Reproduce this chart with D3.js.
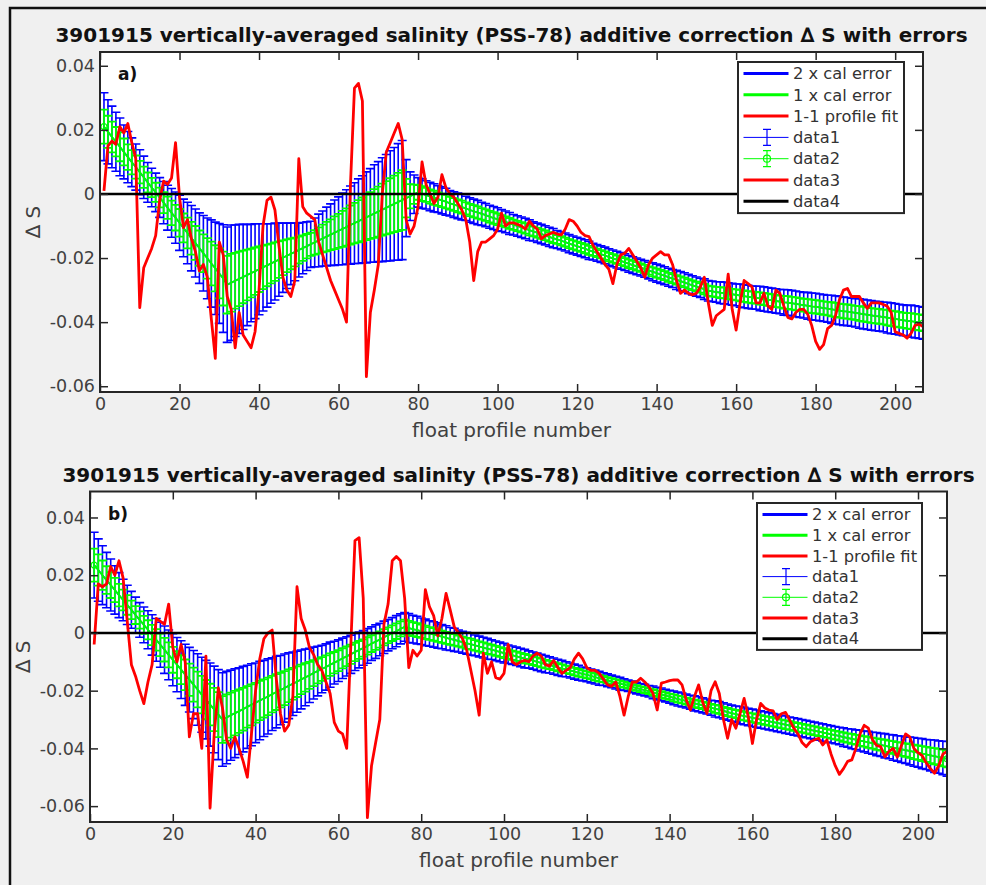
<!DOCTYPE html>
<html>
<meta charset="utf-8">
<head>
<title>3901915 salinity correction</title>
<script src="https://d3js.org/d3.v7.min.js"></script>
<style>
body { margin: 0; background: #f0f0f0; }
text { font-family: "DejaVu Sans", sans-serif; }
</style>
</head>
<body>
<div id="plot"></div>
<script>

// profile numbers along the x axis
var profileNo = d3.range(1, 208);

var xTicks = [0, 20, 40, 60, 80, 100, 120, 140, 160, 180, 200];
var yTicks = [-0.06, -0.04, -0.02, 0, 0.02, 0.04];
var yTickLabels = ["-0.06", "-0.04", "-0.02", "0", "0.02", "0.04"];
var titleText = "3901915 vertically-averaged salinity (PSS-78) additive correction \u2206 S with errors";
var xLabel = "float profile number";
var yLabel = "\u2206 S";
var legendLabels = ["2 x cal error", "1 x cal error", "1-1 profile fit", "data1", "data2", "data3", "data4"];

// panel a : fitted correction, 1 x cal error, 1-1 profile fit
var fitA = [
 .0210,.0194,.0178,.0163,.0147,.0131,.0115,.0099,.0084,.0068,
 .0052,.0036,.0020,.0005,-.0011,-.0027,-.0043,-.0059,-.0074,-.0090,
 -.0106,-.0122,-.0138,-.0153,-.0169,-.0185,-.0201,-.0217,-.0232,-.0248,
 -.0264,-.0283,-.0277,-.0271,-.0265,-.0259,-.0253,-.0247,-.0241,-.0235,
 -.0229,-.0223,-.0217,-.0211,-.0205,-.0199,-.0193,-.0187,-.0181,-.0175,
 -.0169,-.0163,-.0157,-.0151,-.0145,-.0139,-.0133,-.0127,-.0121,-.0115,
 -.0109,-.0103,-.0097,-.0091,-.0085,-.0079,-.0073,-.0067,-.0061,-.0055,
 -.0049,-.0043,-.0037,-.0031,-.0025,-.0019,-.0013,-.0007,-.0001,.0005,
 .0001,-.0003,-.0008,-.0012,-.0016,-.0020,-.0024,-.0029,-.0033,-.0037,
 -.0041,-.0045,-.0050,-.0054,-.0058,-.0062,-.0066,-.0071,-.0075,-.0079,
 -.0083,-.0087,-.0092,-.0096,-.0100,-.0104,-.0108,-.0113,-.0117,-.0121,
 -.0125,-.0129,-.0134,-.0138,-.0142,-.0146,-.0150,-.0155,-.0159,-.0163,
 -.0167,-.0171,-.0176,-.0180,-.0184,-.0188,-.0192,-.0197,-.0201,-.0205,
 -.0209,-.0213,-.0218,-.0222,-.0226,-.0230,-.0234,-.0239,-.0243,-.0247,
 -.0251,-.0255,-.0260,-.0264,-.0268,-.0272,-.0276,-.0281,-.0285,-.0289,
 -.0293,-.0297,-.0302,-.0304,-.0306,-.0308,-.0309,-.0311,-.0313,-.0315,
 -.0317,-.0319,-.0321,-.0323,-.0324,-.0326,-.0328,-.0330,-.0332,-.0334,
 -.0336,-.0338,-.0339,-.0341,-.0343,-.0345,-.0347,-.0349,-.0351,-.0352,
 -.0354,-.0356,-.0358,-.0360,-.0362,-.0364,-.0366,-.0367,-.0369,-.0371,
 -.0373,-.0375,-.0377,-.0379,-.0381,-.0382,-.0384,-.0386,-.0388,-.0390,
 -.0392,-.0394,-.0396,-.0397,-.0399,-.0401,-.0403];

var calErrA = [
 .0053,.0050,.0048,.0046,.0045,.0042,.0040,.0038,.0036,.0035,
 .0033,.0031,.0030,.0030,.0031,.0033,.0035,.0038,.0040,.0043,
 .0045,.0048,.0051,.0053,.0055,.0059,.0063,.0068,.0072,.0078,
 .0084,.0090,.0090,.0087,.0085,.0082,.0079,.0076,.0074,.0071,
 .0068,.0065,.0062,.0060,.0057,.0054,.0051,.0048,.0045,.0042,
 .0040,.0038,.0036,.0038,.0041,.0043,.0046,.0048,.0051,.0053,
 .0056,.0058,.0061,.0063,.0066,.0068,.0071,.0073,.0076,.0078,
 .0081,.0083,.0086,.0088,.0091,.0093,.0060,.0038,.0030,.0023,
 .0023,.0022,.0022,.0022,.0021,.0021,.0021,.0020,.0020,.0020,
 .0020,.0019,.0019,.0019,.0019,.0018,.0018,.0018,.0018,.0018,
 .0017,.0017,.0017,.0016,.0016,.0016,.0016,.0016,.0015,.0015,
 .0015,.0015,.0015,.0015,.0014,.0014,.0014,.0014,.0014,.0014,
 .0014,.0014,.0014,.0013,.0013,.0013,.0013,.0013,.0013,.0013,
 .0013,.0013,.0013,.0013,.0013,.0013,.0013,.0013,.0014,.0014,
 .0014,.0014,.0014,.0014,.0015,.0015,.0015,.0015,.0015,.0015,
 .0015,.0016,.0016,.0016,.0016,.0017,.0017,.0017,.0017,.0017,
 .0018,.0018,.0018,.0018,.0018,.0019,.0019,.0019,.0019,.0019,
 .0019,.0020,.0020,.0020,.0020,.0020,.0020,.0021,.0021,.0021,
 .0021,.0021,.0021,.0022,.0022,.0022,.0022,.0022,.0022,.0022,
 .0023,.0023,.0023,.0023,.0023,.0023,.0023,.0024,.0024,.0024,
 .0024,.0024,.0024,.0025,.0025,.0025,.0025];

var profileFitA = [
 .001,.015,.0165,.0155,.021,.019,.022,.016,.011,-.0355,
 -.023,-.020,-.017,-.013,-.002,.004,.003,.005,.016,-.001,
 -.0105,-.008,-.014,-.018,-.024,-.022,-.026,-.039,-.0513,-.015,
 -.019,-.032,-.036,-.048,-.037,-.044,-.046,-.048,-.043,-.030,
 -.010,-.002,-.001,-.005,-.016,-.026,-.030,-.032,-.027,.011,
 -.004,-.006,-.007,-.008,-.015,-.019,-.023,-.027,-.030,-.033,
 -.036,-.040,.003,.033,.0345,.029,-.057,-.037,-.030,-.022,
 .000,.013,.016,.019,.022,.017,-.008,-.0125,-.010,-.004,
 .010,.003,.000,-.003,-.001,.006,.002,.000,-.001,-.003,
 -.005,-.008,-.015,-.027,-.018,-.015,-.015,-.014,-.013,-.011,
 -.006,-.010,-.009,-.009,-.0095,-.010,-.011,-.0085,-.010,-.011,
 -.014,-.013,-.0125,-.012,-.0125,-.0128,-.011,-.008,-.0085,-.010,
 -.012,-.013,-.0133,-.016,-.018,-.020,-.022,-.0235,-.028,-.022,
 -.019,-.0185,-.017,-.019,-.021,-.023,-.026,-.022,-.020,-.019,
 -.018,-.019,-.019,-.022,-.027,-.031,-.030,-.031,-.0315,-.031,
 -.029,-.026,-.034,-.041,-.038,-.037,-.036,-.025,-.036,-.0425,
 -.034,-.027,-.028,-.029,-.034,-.034,-.031,-.035,-.036,-.030,
 -.031,-.035,-.0385,-.039,-.037,-.036,-.036,-.0375,-.041,-.046,
 -.0485,-.047,-.042,-.041,-.038,-.033,-.030,-.0295,-.032,-.032,
 -.032,-.034,-.0357,-.034,-.034,-.034,-.0345,-.035,-.037,-.043,
 -.0435,-.044,-.045,-.0435,-.041,-.0406,-.0414];

// panel b
var fitB = [
 .0235,.0218,.0200,.0183,.0166,.0149,.0131,.0114,.0097,.0080,
 .0062,.0045,.0028,.0011,-.0007,-.0024,-.0041,-.0058,-.0076,-.0093,
 -.0110,-.0127,-.0145,-.0162,-.0179,-.0196,-.0214,-.0231,-.0248,-.0265,
 -.0283,-.0300,-.0293,-.0285,-.0278,-.0271,-.0264,-.0256,-.0249,-.0242,
 -.0234,-.0227,-.0220,-.0212,-.0205,-.0198,-.0191,-.0183,-.0176,-.0169,
 -.0161,-.0154,-.0147,-.0139,-.0132,-.0125,-.0118,-.0110,-.0103,-.0096,
 -.0088,-.0081,-.0074,-.0066,-.0059,-.0052,-.0045,-.0037,-.0030,-.0023,
 -.0015,-.0008,-.0001,.0006,.0014,.0021,.0017,.0013,.0010,.0006,
 .0002,-.0002,-.0005,-.0009,-.0013,-.0017,-.0021,-.0024,-.0028,-.0032,
 -.0036,-.0039,-.0043,-.0047,-.0051,-.0055,-.0058,-.0062,-.0066,-.0070,
 -.0074,-.0077,-.0081,-.0085,-.0089,-.0092,-.0096,-.0100,-.0104,-.0108,
 -.0111,-.0115,-.0119,-.0123,-.0126,-.0130,-.0134,-.0138,-.0142,-.0145,
 -.0149,-.0153,-.0157,-.0160,-.0164,-.0168,-.0172,-.0176,-.0179,-.0183,
 -.0187,-.0191,-.0195,-.0198,-.0202,-.0206,-.0210,-.0213,-.0217,-.0221,
 -.0225,-.0229,-.0232,-.0236,-.0240,-.0244,-.0247,-.0251,-.0255,-.0259,
 -.0263,-.0266,-.0270,-.0274,-.0278,-.0281,-.0285,-.0288,-.0291,-.0294,
 -.0297,-.0300,-.0303,-.0306,-.0309,-.0312,-.0315,-.0318,-.0321,-.0324,
 -.0327,-.0330,-.0333,-.0336,-.0339,-.0342,-.0345,-.0348,-.0351,-.0354,
 -.0357,-.0361,-.0364,-.0367,-.0370,-.0373,-.0376,-.0379,-.0382,-.0385,
 -.0388,-.0391,-.0394,-.0397,-.0400,-.0403,-.0406,-.0409,-.0412,-.0415,
 -.0418,-.0421,-.0424,-.0427,-.0430,-.0433,-.0436];

var calErrB = [
 .0057,.0054,.0051,.0048,.0045,.0042,.0039,.0036,.0034,.0032,
 .0031,.0030,.0031,.0033,.0035,.0037,.0039,.0041,.0043,.0045,
 .0047,.0050,.0053,.0056,.0059,.0062,.0065,.0068,.0072,.0075,
 .0078,.0081,.0080,.0078,.0077,.0075,.0074,.0072,.0071,.0069,
 .0068,.0066,.0065,.0063,.0062,.0060,.0059,.0057,.0055,.0053,
 .0051,.0049,.0047,.0045,.0043,.0041,.0040,.0039,.0037,.0036,
 .0035,.0034,.0033,.0032,.0031,.0030,.0030,.0029,.0029,.0028,
 .0028,.0027,.0027,.0027,.0026,.0025,.0025,.0024,.0024,.0023,
 .0023,.0022,.0022,.0022,.0021,.0021,.0020,.0020,.0019,.0019,
 .0019,.0019,.0018,.0018,.0018,.0018,.0017,.0017,.0017,.0017,
 .0016,.0016,.0016,.0016,.0016,.0015,.0015,.0015,.0015,.0015,
 .0014,.0014,.0014,.0014,.0013,.0013,.0013,.0013,.0012,.0012,
 .0012,.0012,.0012,.0011,.0011,.0011,.0011,.0011,.0010,.0010,
 .0010,.0010,.0010,.0010,.0010,.0011,.0011,.0011,.0011,.0011,
 .0012,.0012,.0012,.0012,.0012,.0013,.0013,.0013,.0013,.0013,
 .0014,.0014,.0014,.0014,.0014,.0014,.0015,.0015,.0015,.0015,
 .0015,.0015,.0015,.0015,.0015,.0015,.0015,.0015,.0015,.0015,
 .0015,.0015,.0015,.0015,.0015,.0015,.0015,.0015,.0015,.0015,
 .0015,.0016,.0016,.0017,.0017,.0018,.0018,.0019,.0019,.0020,
 .0020,.0021,.0021,.0022,.0022,.0023,.0023,.0024,.0025,.0025,
 .0026,.0026,.0027,.0028,.0028,.0029,.0030];

var profileFitB = [
 -.004,.017,.016,.017,.023,.020,.025,.019,.004,-.011,
 -.015,-.020,-.0245,-.017,-.011,.005,.004,.003,.010,-.005,
 -.010,-.004,-.010,-.036,-.028,-.028,-.040,-.008,-.0607,-.035,
 -.019,-.026,-.037,-.040,-.036,-.040,-.0445,-.050,-.035,-.020,
 -.009,-.002,.000,.001,-.016,-.028,-.034,-.032,-.022,.016,
 .005,.001,-.005,-.0075,-.011,-.013,-.017,-.021,-.031,-.034,
 -.035,-.040,-.004,.032,.033,.012,-.064,-.046,-.038,-.030,
 .003,.010,.025,.0265,.025,.012,-.012,-.006,-.008,-.006,
 .015,.009,.006,-.001,.005,.0137,.008,.002,.000,-.002,
 -.006,-.013,-.020,-.0285,-.007,-.014,-.010,-.0155,-.016,-.014,
 -.004,-.010,-.011,-.010,-.0095,-.010,-.008,-.007,-.008,-.011,
 -.0115,-.0095,-.012,-.014,-.013,-.012,-.009,-.007,-.009,-.012,
 -.013,-.013,-.014,-.016,-.018,-.0185,-.017,-.022,-.0285,-.022,
 -.017,-.017,-.0157,-.017,-.0186,-.021,-.0267,-.0174,-.017,-.0165,
 -.0163,-.0163,-.018,-.0232,-.0267,-.022,-.018,-.024,-.0279,-.020,
 -.0169,-.021,-.030,-.0365,-.030,-.033,-.028,-.0227,-.029,-.0383,
 -.030,-.0244,-.026,-.0267,-.027,-.030,-.028,-.0275,-.0302,-.033,
 -.035,-.038,-.0394,-.0377,-.037,-.0365,-.0388,-.0371,-.042,-.046,
 -.049,-.047,-.0445,-.044,-.040,-.035,-.032,-.033,-.037,-.039,
 -.0394,-.043,-.041,-.040,-.043,-.039,-.035,-.036,-.040,-.0415,
 -.0425,-.045,-.047,-.0486,-.046,-.042,-.041];

var panels = [
  { tag: "a)", left: 100, top: 52, width: 823, height: 340, yMin: -0.0618, yMax: 0.0443,
    fit: fitA, err: calErrA, prof: profileFitA, legX: 738, legY: 62, legW: 166, legStep: 21.3 },
  { tag: "b)", left: 90, top: 491.5, width: 857, height: 330.5, yMin: -0.0655, yMax: 0.049,
    fit: fitB, err: calErrB, prof: profileFitB, legX: 757, legY: 503, legW: 165, legStep: 20.7 }
];

var svg = d3.select("#plot").append("svg")
    .attr("width", 986)
    .attr("height", 885);

svg.append("rect")
    .attr("width", 986).attr("height", 885)
    .attr("fill", "#f0f0f0");

// figure window edges
svg.append("path")
    .attr("d", "M10,885 V8 H986")
    .attr("fill", "none").attr("stroke", "#111").attr("stroke-width", 2.5);

panels.forEach(function(p, k){
  var xScale = d3.scaleLinear().domain([0, 207]).range([0, p.width]);
  var yScale = d3.scaleLinear().domain([p.yMin, p.yMax]).range([p.height, 0]);

  var g = svg.append("g")
      .attr("transform", "translate(" + p.left + "," + p.top + ")");

  g.append("rect")
      .attr("width", p.width).attr("height", p.height)
      .attr("fill", "white");

  g.append("clipPath").attr("id", "clip" + k)
    .append("rect").attr("width", p.width).attr("height", p.height);

  var plotArea = g.append("g").attr("clip-path", "url(#clip" + k + ")");

  // error bars: blue = 2 x cal error, green = 1 x cal error
  function errorBars(mult, color, cap, w){
    var eb = plotArea.append("g")
        .attr("stroke", color).attr("stroke-width", w).attr("fill", "none");
    eb.append("path")
        .datum(profileNo)
        .attr("d", d3.line()
          .x(function(d){ return xScale(d); })
          .y(function(d, i){ return yScale(p.fit[i]); }));
    eb.selectAll(".bar")
      .data(profileNo)
      .enter().append("path")
      .attr("class", "bar")
      .attr("d", function(d, i){
        var x = xScale(d),
            y1 = yScale(p.fit[i] + mult * p.err[i]),
            y2 = yScale(p.fit[i] - mult * p.err[i]);
        return "M" + x + "," + y1 + "V" + y2 +
               "M" + (x - cap) + "," + y1 + "H" + (x + cap) +
               "M" + (x - cap) + "," + y2 + "H" + (x + cap);
      });
    return eb;
  }

  errorBars(2, "#0000ff", 4.5, 1.6);
  var green = errorBars(1, "#00ff00", 4.5, 1.8);
  green.selectAll(".mark")
    .data([0, profileNo.length - 1])
    .enter().append("circle")
    .attr("class", "mark")
    .attr("cx", function(i){ return xScale(profileNo[i]); })
    .attr("cy", function(i){ return yScale(p.fit[i]); })
    .attr("r", 3)
    .attr("stroke-width", 1.2);

  plotArea.append("path")
      .datum(profileNo)
      .attr("fill", "none")
      .attr("stroke", "#ff0000")
      .attr("stroke-width", 2.8)
      .attr("stroke-linejoin", "round")
      .attr("d", d3.line()
        .x(function(d){ return xScale(d); })
        .y(function(d, i){ return yScale(p.prof[i]); }));

  plotArea.append("line")
      .attr("x1", 0).attr("x2", p.width)
      .attr("y1", yScale(0)).attr("y2", yScale(0))
      .attr("stroke", "#000").attr("stroke-width", 2.5);

  // axes with inward ticks on all four sides
  var xAxis = d3.axisBottom(xScale).tickValues(xTicks).tickSize(-8).tickPadding(6);
  var yAxis = d3.axisLeft(yScale).tickValues(yTicks).tickSize(-8).tickPadding(5)
      .tickFormat(function(d, i){ return yTickLabels[i]; });

  var gx = g.append("g").attr("transform", "translate(0," + p.height + ")").call(xAxis);
  var gy = g.append("g").call(yAxis);
  g.append("g").call(d3.axisTop(xScale).tickValues(xTicks).tickSize(-8).tickFormat(""));
  g.append("g").attr("transform", "translate(" + p.width + ",0)")
      .call(d3.axisRight(yScale).tickValues(yTicks).tickSize(-8).tickFormat(""));

  g.selectAll(".domain").remove();
  g.selectAll(".tick line").attr("stroke", "#262626").attr("stroke-width", 1.5);
  g.selectAll(".tick text").attr("font-size", 17.5).attr("fill", "#404040")
      .style("font-family", "DejaVu Sans");
  gx.selectAll(".tick text").attr("dy", "0.71em");

  g.append("rect")
      .attr("width", p.width).attr("height", p.height)
      .attr("fill", "none").attr("stroke", "#262626").attr("stroke-width", 2);

  g.append("text")
      .attr("x", p.width / 2).attr("y", -10)
      .attr("text-anchor", "middle")
      .attr("font-size", 20).attr("font-weight", "bold").attr("fill", "#111")
      .text(titleText);

  g.append("text")
      .attr("x", p.width / 2).attr("y", p.height + 45)
      .attr("text-anchor", "middle")
      .attr("font-size", 20).attr("fill", "#404040")
      .text(xLabel);

  g.append("text")
      .attr("transform", "translate(-60," + (p.height / 2) + ") rotate(-90)")
      .attr("text-anchor", "middle")
      .attr("font-size", 20).attr("fill", "#404040")
      .text(yLabel);

  g.append("text")
      .attr("x", 18).attr("y", 28)
      .attr("font-size", 17).attr("font-weight", "bold").attr("fill", "#111")
      .text(p.tag);

  // legend
  var leg = svg.append("g")
      .attr("transform", "translate(" + p.legX + "," + p.legY + ")");
  leg.append("rect")
      .attr("width", p.legW).attr("height", p.legStep * 7 + 2)
      .attr("fill", "white").attr("stroke", "#262626").attr("stroke-width", 2);

  var legColors = ["#0000ff", "#00ff00", "#ff0000", "#0000ff", "#00ff00", "#ff0000", "#000000"];
  var legWidths = [3, 3, 3, 1, 1, 3, 3];

  var item = leg.selectAll(".item")
    .data(legendLabels)
    .enter().append("g")
    .attr("class", "item")
    .attr("transform", function(d, i){ return "translate(0," + (11.5 + i * p.legStep) + ")"; });

  item.append("line")
      .attr("x1", 5.5).attr("x2", 50.5)
      .attr("stroke", function(d, i){ return legColors[i]; })
      .attr("stroke-width", function(d, i){ return legWidths[i]; });

  item.filter(function(d, i){ return i == 3 || i == 4; })
    .append("path")
      .attr("fill", "none")
      .attr("stroke", function(d){ return d == "data1" ? "#0000ff" : "#00ff00"; })
      .attr("stroke-width", 1.2)
      .attr("d", "M29,-8V8M25,-8H33M25,8H33");

  item.filter(function(d){ return d == "data2"; })
    .append("circle")
      .attr("cx", 29).attr("r", 3.5)
      .attr("fill", "none").attr("stroke", "#00ff00").attr("stroke-width", 1.2);

  item.append("text")
      .attr("x", 55).attr("dy", "0.35em")
      .attr("font-size", 16.3).attr("fill", "#333")
      .text(function(d){ return d; });
});

</script>
</body>
</html>
